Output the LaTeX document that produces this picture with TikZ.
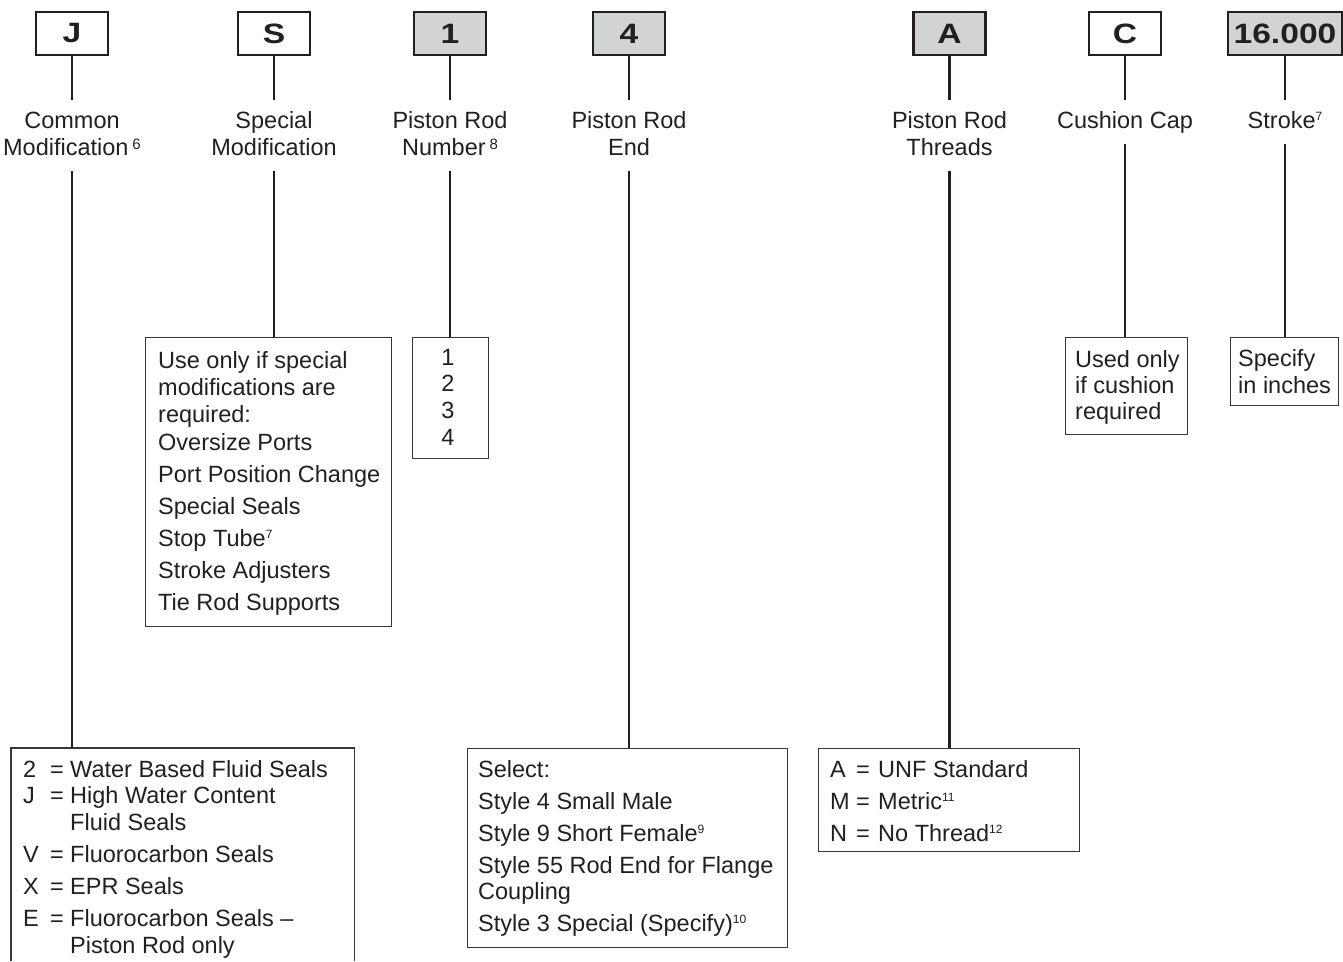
\documentclass[tikz,border=0pt]{standalone}
\usepackage{fontspec}
\usepackage{graphicx}
\setmainfont{Liberation Sans}
\definecolor{ink}{HTML}{231F20}
\definecolor{boxgray}{HTML}{D1D3D4}
\newcommand\supL[1]{\raisebox{5.5pt}{\fontsize{15}{15}\selectfont #1}}
\newcommand\supS[1]{\raisebox{8pt}{\fontsize{12}{12}\selectfont #1}}
\newcommand\wide[1]{\scalebox{1.2}[1]{#1}}
\begin{document}
\begin{tikzpicture}[x=1pt,y=-1pt, color=ink,
  code/.style={draw=ink, line width=2.4pt, minimum width=72pt, minimum height=43pt, inner sep=0, font=\fontsize{28}{28}\selectfont\bfseries},
  gcode/.style={code, fill=boxgray},
  lab/.style={align=center, inner sep=0, outer sep=11pt, anchor=north, text height=17pt, text depth=5pt, font=\fontsize{23.5}{27}\selectfont},
  labtwo/.style={lab, text height=44pt},
  conn/.style={draw=ink, line width=2.4pt},
  obox/.style={draw=ink!90, line width=1.3pt, anchor=north west, inner sep=0},
  txt/.style={anchor=base west, inner sep=0, font=\fontsize{23.5}{27}\selectfont},
  ctxt/.style={anchor=base, inner sep=0, font=\fontsize{23.5}{27}\selectfont},
]
\useasboundingbox (0,0) rectangle (1343,961);

% code boxes
\node[code]  (jc)  at (72,33.5)    {\wide{J}};
\node[code]  (sc)  at (274,33.5)   {\wide{S}};
\node[gcode] (nc)  at (450,33.5)   {\wide{1}};
\node[gcode] (ec)  at (629,33.5)   {\wide{4}};
\node[gcode] (tc)  at (949.5,33.5) {\wide{A}};
\node[code]  (cc)  at (1125,33.5)  {\wide{C}};
\node[gcode, minimum width=114pt] (stc) at (1285,33.5) {\wide{16.000}};

% labels
\node[labtwo] (jl)  at (72,100)    {Common\\Modification\,\supL{6}};
\node[labtwo] (sl)  at (274,100)   {Special\\Modification};
\node[labtwo] (nl)  at (450,100)   {Piston Rod\\Number\,\supL{8}};
\node[labtwo] (el)  at (629,100)   {Piston Rod\\End};
\node[labtwo] (tl)  at (949.5,100) {Piston Rod\\Threads};
\node[lab]    (cl)  at (1125,100)  {Cushion Cap};
\node[lab]    (stl) at (1285,100)  {Stroke\supS{7}};

% option boxes
\node[minimum width=343pt, minimum height=213pt, anchor=north west, inner sep=0] (jb) at (11,748) {};
\draw[draw=ink!90, line width=1.3pt] (jb.south west) -- (jb.north west) -- (jb.north east) -- (jb.south east);
\node[obox, minimum width=246pt, minimum height=289pt] (sb)  at (145,337)  {};
\node[obox, minimum width=76pt,  minimum height=121pt] (nb)  at (412,337)  {};
\node[obox, minimum width=320pt, minimum height=199pt] (eb)  at (467,748)  {};
\node[obox, minimum width=261pt, minimum height=103pt] (tb)  at (818,748)  {};
\node[obox, minimum width=122pt, minimum height=97pt]  (cb)  at (1065,337) {};
\node[obox, minimum width=108pt, minimum height=68pt]  (stb) at (1230,337) {};

% connectors
\foreach \a/\b in {jc/jl, sc/sl, nc/nl, ec/el, tc/tl, cc/cl, stc/stl} {\draw[conn] (\a) -- (\b);}
\draw[conn] (jl.south)  -- (jl.south  |- jb.north);
\draw[conn] (sl.south)  -- (sl.south  |- sb.north);
\draw[conn] (nl.south)  -- (nl.south  |- nb.north);
\draw[conn] (el.south)  -- (el.south  |- eb.north);
\draw[conn] (tl.south)  -- (tl.south  |- tb.north);
\draw[conn] (cl.south)  -- (cl.south  |- cb.north);
\draw[conn] (stl.south) -- (stl.south |- stb.north);

% common modification text
\foreach \y/\k [count=\i] in {777/2, 803/J, 862/V, 894/X, 926/E} {
  \node[txt] (bk\i) at (23,\y) {\k};
  \node[txt] (be\i) at (50,\y) {=};
}
\foreach \y/\t [count=\i] in {777/Water Based Fluid Seals, 803/High Water Content, 830/Fluid Seals, 862/Fluorocarbon Seals, 894/EPR Seals, 926/Fluorocarbon Seals --, 953/Piston Rod only} {
  \node[txt] (bt\i) at (70,\y) {\t};
}

% special modification text
\foreach \y/\t [count=\i] in {368/Use only if special, 395/modifications are, 422/required:, 450/Oversize Ports, 482/Port Position Change, 514/Special Seals, 546/Stop Tube\supS{7}, 578/Stroke Adjusters, 610/Tie Rod Supports} {
  \node[txt] (s\i) at (158,\y) {\t};
}

% piston rod number
\foreach \y/\t [count=\i] in {365/1, 391/2, 418/3, 445/4} {
  \node[ctxt] (n\i) at (448,\y) {\t};
}

% piston rod end
\foreach \y/\t [count=\i] in {777/Select:, 809/Style 4 Small Male, 841/Style 9 Short Female\supS{9}, 873/Style 55 Rod End for Flange, 899/Coupling, 931/Style 3 Special (Specify)\supS{10}} {
  \node[txt] (e\i) at (478,\y) {\t};
}

% threads
\foreach \y/\k/\t [count=\i] in {777/A/UNF Standard, 809/M/Metric\supS{11}, 841/N/No Thread\supS{12}} {
  \node[txt] (tk\i) at (830,\y) {\k};
  \node[txt] (te\i) at (856,\y) {=};
  \node[txt] (tt\i) at (878,\y) {\t};
}

% cushion
\foreach \y/\t [count=\i] in {367/Used only, 393/if cushion, 419/required} {
  \node[txt] (c\i) at (1075,\y) {\t};
}

% stroke
\foreach \y/\t [count=\i] in {366/Specify, 393/in inches} {
  \node[txt] (st\i) at (1238,\y) {\t};
}
\end{tikzpicture}
\end{document}
